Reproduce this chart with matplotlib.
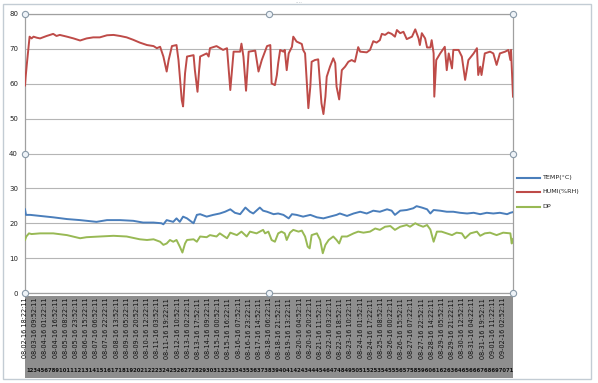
import matplotlib
matplotlib.use("Agg")
import matplotlib.pyplot as plt
from matplotlib.patches import Rectangle
from matplotlib.lines import Line2D

# ---------------- data (hours since 08-02-16 18:22:11) ----------------
humi_h = [0, 1, 3, 7, 10, 13, 18, 23, 33, 43, 48, 53, 64, 74, 84, 94, 104, 114, 125, 135,
          145, 155, 165, 175, 186, 196, 201, 206, 211, 216, 219, 224, 231, 234, 239, 241,
          244, 247, 257, 259, 263, 267, 277, 280, 282, 292, 302, 308, 313, 318, 328, 330,
          333, 337, 341, 351, 356, 361, 369,
          374, 376, 381, 384, 386, 389, 394, 396, 399, 402, 407, 409, 414, 422, 424, 427,
          430, 432, 435, 437, 442, 447, 450, 452, 455, 458, 460, 465, 470, 473, 475, 479,
          483, 488, 493, 498, 503, 508, 511, 521, 526, 531, 536, 541, 544, 549, 554, 559,
          564, 567, 572, 577, 582, 590, 595, 600, 602, 605, 610, 613, 618, 620, 623, 624,
          627, 633, 640, 643, 646, 651, 653, 661, 666, 671, 676, 684, 689, 691, 694, 696,
          701, 709, 714, 719, 724, 732, 737, 740, 741, 744]
humi_v = [59.5, 62, 66, 73.5, 73, 73.5, 73.2, 73, 73.7, 74.3, 73.7, 74, 73.5, 73, 72.4, 73,
          73.3, 73.3, 73.9, 74, 73.7, 73.3, 72.6, 71.8, 71.1, 70.8, 70.2, 70.6, 67.8, 63.5,
          66.8, 70.8, 71.1, 66.8, 55.3, 53.5, 63, 67.8, 68.2, 63.9, 57.7, 67.8, 68.7, 67.8,
          70.2, 70.8, 69.7, 70.2, 58.2, 69.2, 69.2, 71.5, 67.8, 58, 69.2, 69.5, 63.5, 66.8,
          70.8,
          71.1, 60.1, 59.6, 62.5, 65.9, 69.7, 69.2, 69.7, 63.9, 68.7, 70.6, 73.5, 72.1, 71.4,
          69.7, 68.7, 59.2, 53.0, 59.2, 66.3, 66.8, 67.0, 59.2, 54.4, 51.3, 56.3, 62.0, 64.9,
          67.3, 65.9, 59.2, 55.5, 63.9, 64.9, 66.3, 66.8, 66.3, 70.5, 69.2, 69.0, 69.7, 72.2,
          71.8, 72.5, 74.3, 74.0, 74.7, 74.3, 73.5, 75.4, 74.5, 74.9, 72.8, 73.5, 75.6, 73.0,
          71.1, 74.5, 73.0, 70.4, 70.4, 72.5, 68.7, 56.3, 66.8, 68.7, 70.6, 63.9, 68.7, 64.4,
          69.7, 69.7, 67.8, 61.1, 66.8, 68.7, 70.2, 62.5, 64.9, 62.5, 68.7, 69.2, 68.7, 65.4,
          68.7, 69.2, 69.7, 66.8, 69.7, 56.3]

temp_h = [0, 1.5, 8, 23, 43, 64, 84, 109, 125, 145, 165, 180, 196, 208, 211, 216, 226, 231,
          236, 241, 247, 254, 257, 262, 267, 277, 287, 297, 305, 313, 320, 328, 336, 343,
          348, 358, 363, 369, 379, 386, 394, 402, 407, 414, 424, 435, 445, 455, 465, 475,
          480, 491, 501, 511, 521, 531, 541, 552, 559, 564, 572, 582, 592, 597, 605, 613,
          618, 623, 633, 643, 653, 663, 674, 684, 694, 704, 714, 724, 735, 740, 744]
temp_v = [24.0, 22.4, 22.4, 22.1, 21.7, 21.2, 20.9, 20.4, 20.9, 20.9, 20.7, 20.2, 20.2, 20.0,
          19.7, 20.9, 20.4, 21.4, 20.4, 21.9, 21.4, 20.4, 20.0, 22.4, 22.6, 21.9, 22.4, 22.8,
          23.3, 24.0, 23.0, 22.6, 24.5, 23.3, 22.8, 24.5, 23.6, 23.3, 22.6, 22.8, 22.4, 21.4,
          22.6, 22.4, 21.9, 22.4, 21.7, 21.4, 21.9, 22.4, 22.8, 22.1, 22.8, 23.3, 22.8, 23.6,
          23.3, 24.0, 23.6, 22.4, 23.6, 23.8, 24.3, 24.9, 24.5, 24.0, 22.8, 23.8, 23.6, 23.3,
          23.3, 23.0, 22.8, 23.0, 22.6, 23.0, 22.8, 23.0, 22.6, 23.0, 23.2]

dp_h = [0, 2, 6, 10, 23, 43, 64, 84, 94, 114, 135, 155, 175, 186, 196, 206, 211, 216, 221,
        226, 231, 236, 240, 244, 247, 257, 262, 267, 277, 282, 292, 297, 308, 313, 323, 330,
        338, 343, 353, 363, 366, 371, 376, 381, 386, 391, 396, 399, 404, 409, 417, 422, 427,
        431, 434, 437, 445, 450, 454, 458, 463, 470, 475, 479, 483, 491, 501, 508, 516, 526,
        534, 541, 549, 557, 564, 572, 582, 587, 595, 600, 607, 613, 618, 623, 628, 635, 643,
        651, 658, 666, 671, 679, 689, 694, 701, 709, 719, 729, 740, 742, 744]
dp_v = [15.2, 16.2, 17.1, 16.9, 17.1, 17.1, 16.6, 15.7, 16.0, 16.2, 16.4, 16.2, 15.4, 15.2,
        15.4, 14.7, 13.8, 14.2, 15.2, 14.7, 15.2, 13.3, 11.6, 14.2, 15.2, 15.4, 14.7, 16.2,
        16.0, 16.6, 16.2, 17.1, 15.7, 17.3, 16.6, 17.6, 16.2, 17.6, 17.1, 18.1, 17.1, 17.6,
        15.2, 14.7, 17.1, 17.6, 17.1, 15.2, 17.3, 18.1, 17.6, 17.9, 16.2, 13.3, 12.8, 16.6,
        17.1, 15.2, 11.4, 13.8, 15.2, 16.2, 15.2, 14.2, 16.2, 16.2, 17.1, 17.6, 17.3, 17.6,
        18.5, 18.1, 19.0, 19.2, 18.1, 19.0, 19.5, 19.0, 20.0, 19.5, 19.0, 19.5, 18.2, 14.7,
        17.6, 17.6, 17.1, 16.6, 17.3, 17.1, 15.7, 17.1, 17.6, 16.4, 17.1, 17.3, 16.6, 17.3,
        17.1, 14.2, 15.5]

tick_labels = [
    "08-02-16 18:22:11", "08-03-16 09:52:11", "08-04-16 01:22:11", "08-04-16 16:52:11",
    "08-05-16 08:22:11", "08-05-16 23:52:11", "08-06-16 15:22:11", "08-07-16 06:52:11",
    "08-07-16 22:22:11", "08-08-16 13:52:11", "08-09-16 05:22:11", "08-09-16 20:52:11",
    "08-10-16 12:22:11", "08-11-16 03:52:11", "08-11-16 19:22:11", "08-12-16 10:52:11",
    "08-13-16 02:22:11", "08-13-16 17:52:11", "08-14-16 09:22:11", "08-15-16 00:52:11",
    "08-15-16 16:22:11", "08-16-16 07:52:11", "08-16-16 23:22:11", "08-17-16 14:52:11",
    "08-18-16 06:22:11", "08-18-16 21:52:11", "08-19-16 13:22:11", "08-20-16 04:52:11",
    "08-20-16 20:22:11", "08-21-16 11:52:11", "08-22-16 03:22:11", "08-22-16 18:52:11",
    "08-23-16 10:22:11", "08-24-16 01:52:11", "08-24-16 17:22:11", "08-25-16 08:52:11",
    "08-26-16 00:22:11", "08-26-16 15:52:11", "08-27-16 07:22:11", "08-27-16 22:52:11",
    "08-28-16 14:22:11", "08-29-16 05:52:11", "08-29-16 21:22:11", "08-30-16 12:52:11",
    "08-31-16 04:22:11", "08-31-16 19:52:11", "09-01-16 11:22:11", "09-02-16 02:52:11"]
tick_step_hours = 15.5
total_hours = 744
index_labels = list(range(1, 72))
yticks = [0, 10, 20, 30, 40, 50, 60, 70, 80]

# ---------------- figure ----------------
W, H = 598, 383
fig = plt.figure(figsize=(W / 100, H / 100), dpi=100)
fig.patch.set_facecolor("white")

def fx(px):
    return px / W

def fy(py):
    return 1 - py / H

ax = fig.add_axes([fx(25), fy(293), fx(513) - fx(25), fy(14) - fy(293)])

c_temp, c_humi, c_dp = "#4A7EBB", "#BE4B48", "#98B954"
ax.plot(temp_h, temp_v, color=c_temp, lw=1.4, zorder=3)
ax.plot(humi_h, humi_v, color=c_humi, lw=1.4, zorder=3)
ax.plot(dp_h, dp_v, color=c_dp, lw=1.4, zorder=3)

ax.set_xlim(0, total_hours)
ax.set_ylim(0, 80)
ax.set_yticks(yticks)
ax.set_yticklabels([str(v) for v in yticks], fontsize=5)
ax.grid(axis="y", color="#b5b5b5", lw=0.8)
ax.set_axisbelow(True)
ax.tick_params(axis="y", length=0, pad=5, colors="#222222")

xt = [i * tick_step_hours for i in range(len(tick_labels))]
ax.set_xticks(xt)
ax.set_xticklabels(tick_labels, rotation=90, fontsize=4.7, va="top", ha="center")
ax.tick_params(axis="x", length=0, pad=3.5, colors="#111111")

for s in ["left", "bottom", "top", "right"]:
    ax.spines[s].set_color("#a0a0a0")
    ax.spines[s].set_linewidth(0.9)

# selection handles on plot area
hx = [0, 0.5, 1, 0, 1, 0, 0.5, 1]
hy = [1, 1, 1, 0.5, 0.5, 0, 0, 0]
ax.plot(hx, hy, transform=ax.transAxes, ls="none", marker="o", ms=4.5,
        mfc="#eef3f8", mec="#8a9aa8", mew=0.8, clip_on=False, zorder=6)

# gray label band
fig.patches.append(Rectangle((fx(25), fy(378)), fx(513) - fx(25), fy(296) - fy(378),
                             transform=fig.transFigure, facecolor="#8e8e8e",
                             edgecolor="none", zorder=-1))

# crowded index numbers row (one run of text)
fig.text(fx(26), fy(370), "".join(str(v) for v in index_labels), fontsize=3.75,
         fontweight="bold", color="#111111", ha="left", va="center")

# legend (manual)
leg_items = [("TEMP(°C)", c_temp, 178), ("HUMI(%RH)", c_humi, 192), ("DP", c_dp, 207)]
for lab, col, ypx in leg_items:
    fig.lines.append(Line2D([fx(517), fx(540)], [fy(ypx), fy(ypx)],
                            transform=fig.transFigure, color=col, lw=1.5))
    fig.text(fx(542), fy(ypx), lab, fontsize=4.6, va="center", ha="left", color="#222222")

# outer chart border
fig.patches.append(Rectangle((fx(3), fy(379)), fx(591) - fx(3), fy(4) - fy(379),
                             transform=fig.transFigure, facecolor="none",
                             edgecolor="#c3ccd4", lw=1.0, zorder=-2))
fig.text(0.5, fy(3), "····", fontsize=4, ha="center", va="center", color="#9aa6b0")

fig.savefig("out.png", dpi=100)
